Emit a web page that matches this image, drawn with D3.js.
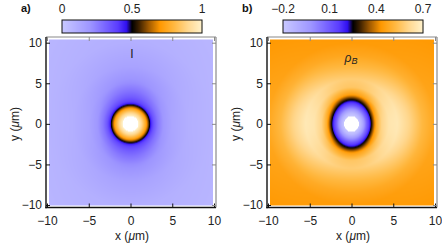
<!DOCTYPE html>
<html lang="en">
<head>
  <meta charset="UTF-8">
  <title>I and rho_B maps</title>
  <style>
    body { margin: 0; background: #fff; }
    svg { display: block; font-family: 'Liberation Sans', Arial, sans-serif; }
  </style>
</head>
<body>
  <svg width="442" height="252"></svg>
  <script src="https://cdn.jsdelivr.net/npm/d3@7"></script>
  <script>
    // colour map, position along the colour bar -> colour
    var cmapStops = [0, 0.2, 0.4, 0.46, 0.5, 0.55, 0.62, 0.7, 0.8, 0.9, 1]
    var cmapColors = ['#c8c8ff', '#9e96ff', '#5a3cff', '#3010f0', '#000000', '#3c2000',
                      '#a05a00', '#ff9800', '#ffb840', '#ffd890', '#fff2cc']

    var axisTicks = [-10, -5, 0, 5, 10]

    // panel a: intensity I, cuts through the centre along x and along y (r in um)
    var aRadii = [0, 0.95, 1.4, 1.8, 2.1, 2.3, 2.5, 2.8, 3.3, 4, 5, 7, 10, 15]
    var aHoriz = [1.25, 1.0, 0.88, 0.76, 0.62, 0.5, 0.42, 0.34, 0.26, 0.19, 0.14, 0.1, 0.08, 0.06]
    var aVert = [1.25, 1.0, 0.88, 0.76, 0.63, 0.52, 0.44, 0.38, 0.33, 0.28, 0.22, 0.15, 0.1, 0.08]
    var aBarTicks = [0, 0.5, 1]

    // panel b: rho_B
    var bRadii = [0, 0.9, 1.3, 1.8, 2.15, 2.35, 2.6, 3.0, 3.6, 4.5, 5.5, 7, 8.5, 10, 15]
    var bHoriz = [-0.35, -0.2, -0.1, 0.08, 0.18, 0.25, 0.35, 0.5, 0.6, 0.655, 0.665, 0.6, 0.52, 0.47, 0.44]
    var bVert = [-0.35, -0.21, -0.15, -0.02, 0.07, 0.12, 0.17, 0.27, 0.45, 0.56, 0.58, 0.52, 0.47, 0.44, 0.42]
    var bBarTicks = [-0.2, 0.1, 0.4, 0.7]

    var panels = [
      { tag: 'a)', radii: aRadii, horiz: aHoriz, vert: aVert, ticks: aBarTicks, dx: 0 },
      { tag: 'b)', radii: bRadii, horiz: bHoriz, vert: bVert, ticks: bBarTicks, dx: 221 }
    ]

    var svg = d3.select('svg')
    var cmap = d3.scaleLinear().domain(cmapStops).range(cmapColors).interpolate(d3.interpolateRgb)

    // frame box inside each panel
    var fl = 46, fr = 216, ft = 37, fb = 207.5
    var x = d3.scaleLinear().domain([-10, 10]).range([47, 214])
    var y = d3.scaleLinear().domain([-10, 10]).range([205, 42.7])

    panels.forEach(function(p) {
      var g = svg.append('g').attr('transform', 'translate(' + p.dx + ',0)')
      var lo = p.ticks[0], hi = p.ticks[p.ticks.length - 1]
      var frac = d3.scaleLinear().domain([lo, hi]).range([0, 1])
      var horiz = d3.scaleLinear().domain(p.radii).range(p.horiz).clamp(true)
      var vert = d3.scaleLinear().domain(p.radii).range(p.vert).clamp(true)

      // density map
      var hx0 = fl + 3, hy0 = ft + 2.5
      var w = Math.round(fr - 3 - hx0), h = Math.round(fb - 2.5 - hy0)
      var canvas = document.createElement('canvas')
      canvas.width = w
      canvas.height = h
      var ctx = canvas.getContext('2d')
      var img = ctx.createImageData(w, h)
      for (var j = 0; j < h; j++) {
        for (var i = 0; i < w; i++) {
          var ux = x.invert(hx0 + i + 0.5), uy = y.invert(hy0 + j + 0.5)
          var r2 = ux * ux + uy * uy, r = Math.sqrt(r2)
          var wt = r2 > 0 ? ux * ux / r2 : 0.5
          var v = wt * horiz(r) + (1 - wt) * vert(r)
          var t = frac(v)
          var c = (t < 0 || t > 1) ? d3.rgb(255, 255, 255) : d3.rgb(cmap(t))
          var k = (j * w + i) * 4
          img.data[k] = c.r
          img.data[k + 1] = c.g
          img.data[k + 2] = c.b
          img.data[k + 3] = 255
        }
      }
      ctx.putImageData(img, 0, 0)
      g.append('image')
        .attr('x', hx0).attr('y', hy0)
        .attr('width', w).attr('height', h)
        .attr('href', canvas.toDataURL())

      // frame
      g.append('line').attr('x1', fl).attr('x2', fr).attr('y1', ft).attr('y2', ft)
        .attr('stroke', '#8a8a8a').attr('stroke-width', 1.2)
      g.append('line').attr('x1', fr).attr('x2', fr).attr('y1', ft).attr('y2', fb)
        .attr('stroke', '#8a8a8a').attr('stroke-width', 1.2)
      g.append('line').attr('x1', fl).attr('x2', fl).attr('y1', ft).attr('y2', fb + 0.7)
        .attr('stroke', '#111').attr('stroke-width', 1.4)
      g.append('line').attr('x1', fl - 0.7).attr('x2', fr).attr('y1', fb).attr('y2', fb)
        .attr('stroke', '#111').attr('stroke-width', 1.4)

      // axes
      var bottom = g.append('g').attr('transform', 'translate(0,' + fb + ')')
        .call(d3.axisBottom(x).tickValues(axisTicks).tickSize(-4).tickSizeOuter(0)
          .tickPadding(9).tickFormat(d3.format('d')))
      var left = g.append('g').attr('transform', 'translate(' + fl + ',0)')
        .call(d3.axisLeft(y).tickValues(axisTicks).tickSize(-4).tickSizeOuter(0)
          .tickPadding(4).tickFormat(d3.format('d')))
      var top = g.append('g').attr('transform', 'translate(0,' + ft + ')')
        .call(d3.axisTop(x).tickValues(axisTicks).tickSize(-4).tickSizeOuter(0).tickFormat(''))
      var right = g.append('g').attr('transform', 'translate(' + fr + ',0)')
        .call(d3.axisRight(y).tickValues(axisTicks).tickSize(-4).tickSizeOuter(0).tickFormat(''))

      ;[bottom, left, top, right].forEach(function(a) {
        a.select('.domain').remove()
        a.attr('font-size', 12).attr('font-family', null)
        a.selectAll('text').attr('fill', '#222')
      })
      bottom.selectAll('.tick line').attr('stroke', '#111')
      left.selectAll('.tick line').attr('stroke', '#111')
      top.selectAll('.tick line').attr('stroke', '#8a8a8a')
      right.selectAll('.tick line').attr('stroke', '#8a8a8a')

      // axis titles
      var xt = g.append('text').attr('x', 132).attr('y', 240)
        .attr('text-anchor', 'middle').attr('font-size', 12).attr('fill', '#222')
      xt.append('tspan').text('x (')
      xt.append('tspan').attr('font-style', 'italic').text('\u03bc')
      xt.append('tspan').text('m)')
      var yt = g.append('text').attr('transform', 'translate(19,124) rotate(-90)')
        .attr('text-anchor', 'middle').attr('font-size', 12).attr('fill', '#222')
      yt.append('tspan').text('y (')
      yt.append('tspan').attr('font-style', 'italic').text('\u03bc')
      yt.append('tspan').text('m)')

      // colour bar
      var bar = d3.scaleLinear().domain([lo, hi]).range([62, 202])
      var steps = d3.range(140)
      g.append('g').selectAll('rect').data(steps).enter().append('rect')
        .attr('x', function(d) { return 62 + d })
        .attr('y', 20)
        .attr('width', 1.3)
        .attr('height', 13)
        .attr('fill', function(d) { return cmap((d + 0.5) / steps.length) })
      g.append('rect').attr('x', 62).attr('y', 20).attr('width', 140).attr('height', 13)
        .attr('fill', 'none').attr('stroke', '#111').attr('stroke-width', 1)
      g.append('g').selectAll('text').data(p.ticks).enter().append('text')
        .attr('x', function(d) { return bar(d) })
        .attr('y', 13)
        .attr('text-anchor', 'middle')
        .attr('font-size', 12)
        .attr('fill', '#222')
        .text(d3.format(''))

      // panel tag
      g.append('text').attr('x', 21).attr('y', 12)
        .attr('font-size', 11).attr('font-weight', 'bold').attr('fill', '#111')
        .text(p.tag)
    })

    // labels inside the maps
    svg.append('text').attr('x', 132).attr('y', 58).attr('text-anchor', 'middle')
      .attr('font-size', 12).attr('fill', '#222').text('I')
    var rho = svg.append('text').attr('x', 351).attr('y', 62).attr('text-anchor', 'middle')
      .attr('font-size', 12).attr('fill', '#222').attr('font-style', 'italic')
    rho.append('tspan').text('\u03c1')
    rho.append('tspan').attr('font-size', 9).attr('dy', 2).text('B')
  </script>
</body>
</html>
